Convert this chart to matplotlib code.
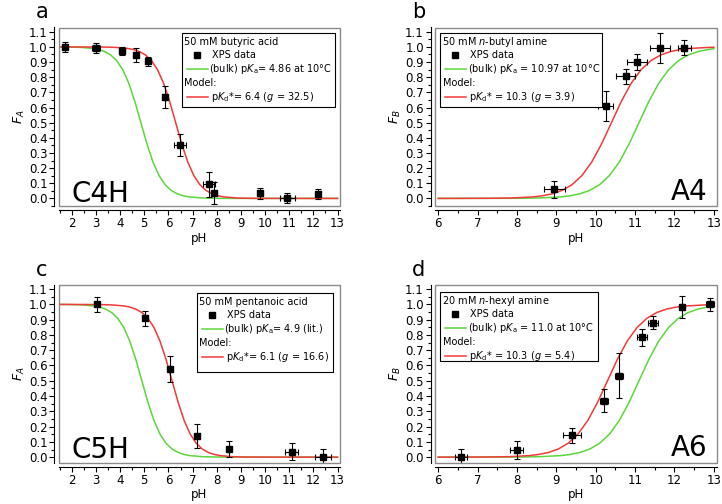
import numpy as np
import matplotlib
matplotlib.use('Agg')
import matplotlib.pyplot as plt
from matplotlib.lines import Line2D
from matplotlib.patches import Rectangle
from matplotlib.ticker import MultipleLocator, FormatStrFormatter

plt.rcParams['font.family'] = 'DejaVu Sans'
plt.rcParams['mathtext.fontset'] = 'dejavusans'

W, H = 722, 504
GREEN = '#5cd63c'
RED = '#f23a3a'
FRAME = '#8a8a8a'

# ---- panel a : butyric acid (C4H)
a_ph = [1.71, 3.0, 4.07, 4.64, 5.17, 5.86, 6.49, 7.69, 7.9, 9.8, 10.92, 12.17]
a_f = [1.0, 0.996, 0.972, 0.945, 0.904, 0.667, 0.354, 0.092, 0.037, 0.033, 0.004, 0.028]
a_ferr = [0.033, 0.033, 0.027, 0.046, 0.03, 0.073, 0.072, 0.081, 0.072, 0.036, 0.035, 0.035]
a_pherr = [0.08, 0.15, 0.0, 0.0, 0.0, 0.0, 0.24, 0.24, 0.1, 0.0, 0.31, 0.0]
a_bulk_ph = [1.5, 1.86, 2.36, 2.86, 3.11, 3.36, 3.61, 3.86, 4.11, 4.36, 4.61, 4.86, 5.11,
             5.36, 5.61, 5.86, 6.11, 6.36, 6.61, 6.86, 7.36, 7.86, 8.5, 10.0, 13.0]
a_bulk_f = [0.9996, 0.999, 0.9968, 0.990, 0.9826, 0.9693, 0.9468, 0.9091, 0.849, 0.7597,
            0.640, 0.5, 0.360, 0.2403, 0.151, 0.0909, 0.0532, 0.0307, 0.0174, 0.0099,
            0.0032, 0.001, 0.0002, 0.0, 0.0]
a_model_ph = [1.5, 3.3, 3.8, 4.3, 4.55, 4.8, 5.05, 5.3, 5.55, 5.8, 6.05, 6.3, 6.55, 6.8,
              7.05, 7.3, 7.55, 7.8, 8.05, 8.3, 8.8, 9.3, 10.0, 13.0]
a_model_f = [1.0, 0.999, 0.9968, 0.990, 0.9826, 0.9693, 0.9468, 0.9091, 0.849, 0.7597,
             0.640, 0.5, 0.360, 0.2403, 0.151, 0.0909, 0.0532, 0.0307, 0.0174, 0.0099,
             0.0032, 0.001, 0.0002, 0.0]

# ---- panel b : n-butyl amine (A4)
b_ph = [8.95, 10.25, 10.76, 11.05, 11.64, 12.25]
b_f = [0.059, 0.61, 0.807, 0.90, 0.993, 0.996]
b_ferr = [0.055, 0.10, 0.05, 0.052, 0.10, 0.05]
b_pherr = [0.26, 0.2, 0.25, 0.26, 0.25, 0.17]
b_bulk_ph = [6.0, 8.1, 8.6, 9.1, 9.35, 9.6, 9.85, 10.1, 10.35, 10.6, 10.85, 11.1, 11.35,
             11.6, 11.85, 12.1, 12.35, 12.6, 12.85, 13.0]
b_bulk_f = [0.0, 0.001, 0.0032, 0.0099, 0.0174, 0.0307, 0.0532, 0.0909, 0.151, 0.2403,
            0.360, 0.5, 0.640, 0.7597, 0.849, 0.9091, 0.9468, 0.9693, 0.9826, 0.9877]
b_model_ph = [6.0, 7.4, 7.9, 8.4, 8.65, 8.9, 9.15, 9.4, 9.65, 9.9, 10.15, 10.4, 10.65,
              10.9, 11.15, 11.4, 11.65, 11.9, 12.15, 12.4, 12.9, 13.0]
b_model_f = [0.0, 0.001, 0.0032, 0.0099, 0.0174, 0.0307, 0.0532, 0.0909, 0.151, 0.2403,
             0.360, 0.5, 0.640, 0.7597, 0.849, 0.9091, 0.9468, 0.9693, 0.9826, 0.990,
             0.9968, 0.9975]

# ---- panel c : pentanoic acid (C5H)
c_ph = [3.03, 5.04, 6.08, 7.19, 8.49, 11.1, 12.4]
c_f = [1.0, 0.908, 0.577, 0.139, 0.052, 0.037, 0.0]
c_ferr = [0.049, 0.048, 0.082, 0.08, 0.052, 0.054, 0.054]
c_pherr = [0.08, 0.0, 0.0, 0.0, 0.0, 0.28, 0.33]
c_bulk_ph = [1.5, 1.9, 2.4, 2.9, 3.15, 3.4, 3.65, 3.9, 4.15, 4.4, 4.65, 4.9, 5.15, 5.4,
             5.65, 5.9, 6.15, 6.4, 6.65, 6.9, 7.4, 7.9, 8.5, 10.0, 13.0]
c_bulk_f = [0.9996, 0.999, 0.9968, 0.990, 0.9826, 0.9693, 0.9468, 0.9091, 0.849, 0.7597,
            0.640, 0.5, 0.360, 0.2403, 0.151, 0.0909, 0.0532, 0.0307, 0.0174, 0.0099,
            0.0032, 0.001, 0.0002, 0.0, 0.0]
c_model_ph = [1.5, 3.15, 3.65, 4.15, 4.4, 4.65, 4.9, 5.15, 5.4, 5.65, 5.9, 6.15, 6.4,
              6.65, 6.9, 7.15, 7.4, 7.65, 7.9, 8.15, 8.65, 9.15, 10.0, 13.0]
c_model_f = [1.0, 0.999, 0.9968, 0.990, 0.9826, 0.9693, 0.9468, 0.9091, 0.849, 0.7597,
             0.640, 0.5, 0.360, 0.2403, 0.151, 0.0909, 0.0532, 0.0307, 0.0174, 0.0099,
             0.0032, 0.001, 0.0002, 0.0]

# ---- panel d : n-hexyl amine (A6)
d_ph = [6.59, 7.99, 9.4, 10.22, 10.59, 11.18, 11.46, 12.19, 12.9]
d_f = [0.0, 0.048, 0.142, 0.37, 0.534, 0.784, 0.88, 0.983, 1.0]
d_ferr = [0.052, 0.06, 0.049, 0.075, 0.147, 0.054, 0.041, 0.072, 0.04]
d_pherr = [0.15, 0.17, 0.22, 0.1, 0.11, 0.12, 0.13, 0.05, 0.1]
d_bulk_ph = b_bulk_ph
d_bulk_f = b_bulk_f
d_model_ph = [6.0, 7.3, 7.8, 8.3, 8.55, 8.8, 9.05, 9.3, 9.55, 9.8, 10.05, 10.3, 10.55,
              10.8, 11.05, 11.3, 11.55, 11.8, 12.05, 12.3, 12.8, 13.0]
d_model_f = b_model_f

panels = [
    dict(letter='a', tag='C4H', ylab=r'$F_A$', pos=(58.5, 27.5, 339.5, 206), xlim=(1.45, 13.08),
         ylim=(-0.05, 1.128), ph=a_ph, f=a_f, ferr=a_ferr, pherr=a_pherr,
         bulk=(a_bulk_ph, a_bulk_f), model=(a_model_ph, a_model_f), tag_right=False,
         box=(181.7, 33.3, 335, 107),
         leg=['50 mM butyric acid', r'(bulk) p$K_\mathrm{a}$= 4.86 at 10°C',
              r'p$K_\mathrm{d}$*= 6.4 ($g$ = 32.5)']),
    dict(letter='b', tag='A4', ylab=r'$F_B$', pos=(435, 27.5, 717, 206), xlim=(5.92, 13.08),
         ylim=(-0.05, 1.128), ph=b_ph, f=b_f, ferr=b_ferr, pherr=b_pherr,
         bulk=(b_bulk_ph, b_bulk_f), model=(b_model_ph, b_model_f), tag_right=True,
         box=(440, 33.3, 601.7, 106.7),
         leg=[r'50 mM $n$-butyl amine', r'(bulk) p$K_\mathrm{a}$ = 10.97 at 10°C',
              r'p$K_\mathrm{d}$* = 10.3 ($g$ = 3.9)']),
    dict(letter='c', tag='C5H', ylab=r'$F_A$', pos=(58.5, 285.3, 339.5, 462.5), xlim=(1.45, 13.08),
         ylim=(-0.035, 1.125), ph=c_ph, f=c_f, ferr=c_ferr, pherr=c_pherr,
         bulk=(c_bulk_ph, c_bulk_f), model=(c_model_ph, c_model_f), tag_right=False,
         box=(196.7, 292.7, 333.3, 372),
         leg=['50 mM pentanoic acid', r'(bulk) p$K_\mathrm{a}$= 4.9 (lit.)',
              r'p$K_\mathrm{d}$*= 6.1 ($g$ = 16.6)']),
    dict(letter='d', tag='A6', ylab=r'$F_B$', pos=(435, 285.3, 717, 462.5), xlim=(5.92, 13.08),
         ylim=(-0.035, 1.125), ph=d_ph, f=d_f, ferr=d_ferr, pherr=d_pherr,
         bulk=(d_bulk_ph, d_bulk_f), model=(d_model_ph, d_model_f), tag_right=True,
         box=(440, 292, 598.3, 361.3),
         leg=[r'20 mM $n$-hexyl amine', r'(bulk) p$K_\mathrm{a}$ = 11.0 at 10°C',
              r'p$K_\mathrm{d}$* = 10.3 ($g$ = 5.4)']),
]

fig = plt.figure(figsize=(W / 100, H / 100), dpi=100)


def fx(x):
    return x / W


def fy(y):
    return 1 - y / H


for p in panels:
    l, t, r, b = p['pos']
    ax = fig.add_axes([fx(l), fy(b), (r - l) / W, (b - t) / H])
    ax.plot(p['bulk'][0], p['bulk'][1], color=GREEN, lw=1.1, zorder=2)
    ax.plot(p['model'][0], p['model'][1], color=RED, lw=1.1, zorder=2)
    ax.errorbar(p['ph'], p['f'], yerr=p['ferr'], xerr=p['pherr'], fmt='s', color='black',
                ms=4.8, capsize=2.2, elinewidth=0.8, capthick=0.8, zorder=3)
    ax.set_xlim(*p['xlim'])
    ax.set_ylim(*p['ylim'])
    ax.xaxis.set_major_locator(MultipleLocator(1))
    ax.xaxis.set_minor_locator(MultipleLocator(0.5))
    ax.yaxis.set_major_locator(MultipleLocator(0.1))
    ax.yaxis.set_minor_locator(MultipleLocator(0.05))
    ax.yaxis.set_major_formatter(FormatStrFormatter('%.1f'))
    ax.set_yticks([i / 10 for i in range(12)])
    ax.tick_params(which='major', direction='out', length=3.5, width=0.8, labelsize=8.5, pad=1.5)
    ax.tick_params(which='minor', direction='out', length=2, width=0.8)
    for s in ['left', 'bottom']:
        ax.spines[s].set_position(('outward', 3))
        ax.spines[s].set_linewidth(0.8)
    for s in ['top', 'right']:
        ax.spines[s].set_visible(False)
    ax.add_patch(Rectangle((0, 0), 1, 1, transform=ax.transAxes, fill=False,
                           edgecolor=FRAME, lw=1, clip_on=False, zorder=5))
    ax.set_xlabel('pH', fontsize=8.5)
    ax.xaxis.set_label_coords(0.5, -0.145)
    ax.set_ylabel(p['ylab'], fontsize=9)
    ax.yaxis.set_label_coords(-0.112, 0.5)
    if p['tag_right']:
        ax.text(0.967, 0.034, p['tag'], transform=ax.transAxes, ha='right', va='baseline',
                fontsize=20)
    else:
        ax.text(0.045, 0.024, p['tag'], transform=ax.transAxes, ha='left', va='baseline',
                fontsize=20)
    fig.text(fx(l - 23), fy(t - 9.5), p['letter'], fontsize=15, va='baseline')

    # legend box drawn by hand
    bl, bt, br, bb = p['box']
    fig.add_artist(Rectangle((fx(bl), fy(bb)), (br - bl) / W, (bb - bt) / H,
                             transform=fig.transFigure, fill=True, facecolor='white',
                             edgecolor='black', lw=0.8, zorder=6))
    rows = [bt + 9, bt + 22, bt + 36, bt + 50, bt + 64]
    fs = 7
    fig.text(fx(bl + 2.5), fy(rows[0]), p['leg'][0], fontsize=fs, va='center', zorder=7)
    fig.add_artist(Line2D([fx(bl + 15)], [fy(rows[1])], marker='s', color='black', ms=4.8,
                          transform=fig.transFigure, zorder=7))
    fig.text(fx(bl + 30), fy(rows[1]), 'XPS data', fontsize=fs, va='center', zorder=7)
    fig.add_artist(Line2D([fx(bl + 5), fx(bl + 26)], [fy(rows[2])] * 2, color=GREEN, lw=1.1,
                          transform=fig.transFigure, zorder=7))
    fig.text(fx(bl + 27.5), fy(rows[2]), p['leg'][1], fontsize=fs, va='center', zorder=7)
    fig.text(fx(bl + 2.5), fy(rows[3]), 'Model:', fontsize=fs, va='center', zorder=7)
    fig.add_artist(Line2D([fx(bl + 5), fx(bl + 26)], [fy(rows[4])] * 2, color=RED, lw=1.1,
                          transform=fig.transFigure, zorder=7))
    fig.text(fx(bl + 29), fy(rows[4]), p['leg'][2], fontsize=fs, va='center', zorder=7)

fig.savefig('out.png', dpi=100)
